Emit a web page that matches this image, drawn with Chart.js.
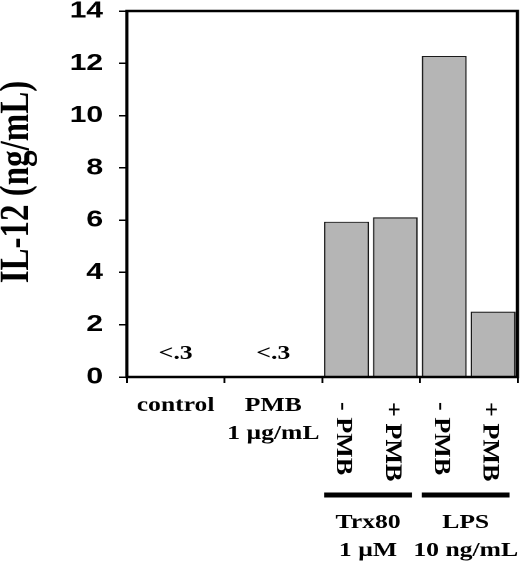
<!DOCTYPE html>
<html>
<head>
<meta charset="utf-8">
<script src="https://cdn.jsdelivr.net/npm/chart.js@4.4.1/dist/chart.umd.min.js"></script>
<style>
  html, body { margin: 0; padding: 0; background: #fff; }
</style>
</head>
<body>
<!-- the original figure is stretched sideways, so the canvas is too -->
<canvas id="chart" width="406" height="564" style="width:520px;height:564px"></canvas>
<script>
// one slot per bar position; '' means the label before it spans this slot too
const slotLabels = ['control', '', 'PMB', '', '- PMB', '+ PMB', '- PMB', '+ PMB'];
const subLabels = ['', '', '1 µg/mL', '', '', '', '', ''];
const values = [null, null, null, null, 5.94, 6.11, 12.28, 2.5];
const belowDetection = ['<.3', '', '<.3', '', '', '', '', ''];
const groupNames = ['Trx80', 'LPS'];
const groupDoses = ['1 µM', '10 ng/mL'];
const groupStart = [4, 6];
const yMax = 14;
const yStep = 2;

const serif = '"Liberation Serif", "Times New Roman", serif';

function drawStretched(ctx, text, x, y, angle, sx) {
  ctx.save();
  ctx.translate(x, y);
  ctx.rotate(angle);
  ctx.scale(sx, 1);
  ctx.fillText(text, 0, 0);
  ctx.restore();
}

const labelsPlugin = {
  id: 'labels',
  afterDraw(chart) {
    const ctx = chart.ctx;
    const xs = chart.scales.x;
    const area = chart.chartArea;
    const half = (xs.getPixelForValue(1) - xs.getPixelForValue(0)) / 2;

    ctx.save();
    // box round the plot
    ctx.strokeStyle = '#000';
    ctx.lineWidth = 2.5;
    ctx.strokeRect(area.left, area.top, area.right - area.left, area.bottom - area.top);

    ctx.fillStyle = '#000';

    // y title
    ctx.font = 'bold 33px ' + serif;
    ctx.textAlign = 'center';
    ctx.textBaseline = 'middle';
    drawStretched(ctx, 'IL-12 (ng/mL)', 13.5, (area.top + area.bottom) / 2 - 12, -Math.PI / 2, 1);

    // category labels
    slotLabels.forEach((lab, i) => {
      if (!lab) return;
      const spans = slotLabels[i + 1] === '';
      const cx = xs.getPixelForValue(i) + (spans ? half : 0);
      if (values[i] === null) {
        ctx.font = 'bold 20px ' + serif;
        ctx.textAlign = 'center';
        ctx.textBaseline = 'alphabetic';
        ctx.fillText(lab, cx, area.bottom + 34);
        if (subLabels[i]) ctx.fillText(subLabels[i], cx, area.bottom + 62);
        if (belowDetection[i]) ctx.fillText(belowDetection[i], cx, area.bottom - 18);
      } else {
        ctx.font = 'bold 18px ' + serif;
        ctx.textAlign = 'left';
        ctx.textBaseline = 'middle';
        drawStretched(ctx, lab, cx - 2.7, area.bottom + 25, Math.PI / 2, 1.45);
      }
    });

    // group bars and names
    groupNames.forEach((name, g) => {
      const s = groupStart[g];
      const l = xs.getPixelForValue(s) - half + 1.6;
      const r = xs.getPixelForValue(s + 1) + half - 6.2;
      const y = area.bottom + 118;
      ctx.lineWidth = 5;
      ctx.beginPath();
      ctx.moveTo(l, y);
      ctx.lineTo(r, y);
      ctx.stroke();
      const c = (l + r) / 2;
      ctx.font = 'bold 20px ' + serif;
      ctx.textAlign = 'center';
      ctx.textBaseline = 'alphabetic';
      ctx.fillText(name, c, area.bottom + 151);
      ctx.fillText(groupDoses[g], c, area.bottom + 179);
    });
    ctx.restore();
  }
};

new Chart(document.getElementById('chart'), {
  type: 'bar',
  data: {
    labels: slotLabels,
    datasets: [{
      data: values,
      backgroundColor: '#b5b5b5',
      borderColor: '#1a1a1a',
      borderWidth: 1.2,
      barPercentage: 0.92,
      categoryPercentage: 1
    }]
  },
  options: {
    responsive: false,
    devicePixelRatio: 2,
    animation: false,
    layout: { padding: { top: 11, right: 2, left: 0, bottom: 0 } },
    plugins: { legend: { display: false }, tooltip: { enabled: false } },
    scales: {
      x: {
        offset: true,
        border: { display: false },
        grid: {
          offset: true,
          drawOnChartArea: false,
          drawTicks: true,
          tickLength: 6,
          lineWidth: 1.5,
          color: (c) => (c.index === undefined || c.index % 2 === 0) ? '#000' : 'rgba(0,0,0,0)'
        },
        ticks: { display: false },
        afterFit: (scale) => { scale.height = 187; scale.paddingLeft = 0; scale.paddingRight = 0; }
      },
      y: {
        min: 0,
        max: yMax,
        border: { display: false },
        grid: {
          drawOnChartArea: false,
          drawTicks: true,
          tickLength: 6,
          lineWidth: 1.5,
          color: '#000'
        },
        ticks: {
          stepSize: yStep,
          padding: 12.5,
          color: '#000',
          font: { family: '"Liberation Sans", Arial, sans-serif', size: 23.5, weight: 'bold' }
        },
        afterFit: (scale) => { scale.width = 99; scale.paddingTop = 0; scale.paddingBottom = 0; }
      }
    }
  },
  plugins: [labelsPlugin]
});
</script>
</body>
</html>
